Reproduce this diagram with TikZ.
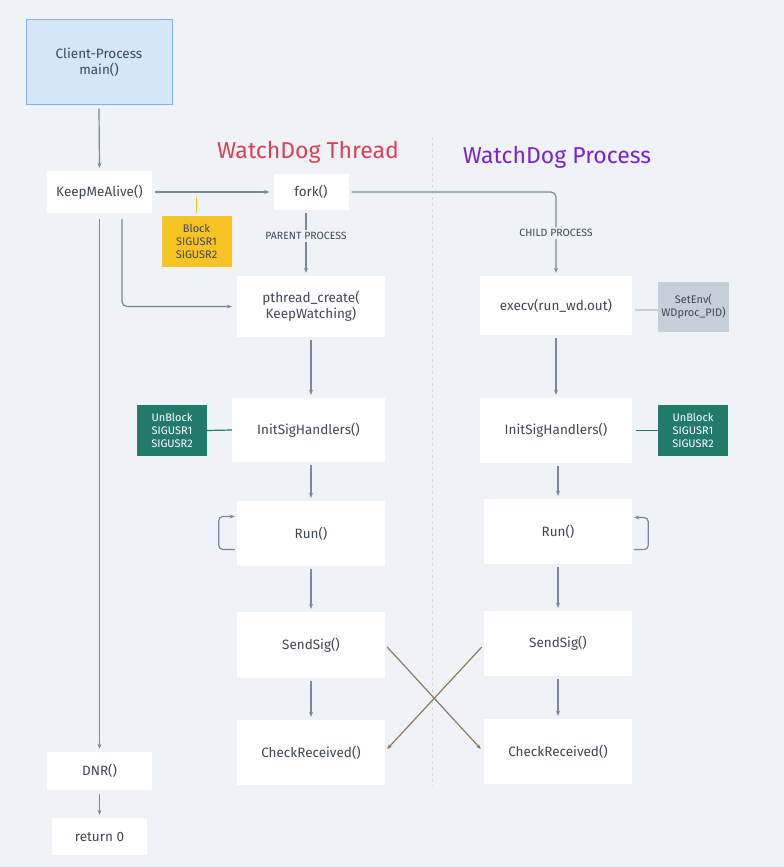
\documentclass[tikz,border=0pt]{standalone}
\usepackage{fontspec}
\setmainfont{Fira Sans}
\usetikzlibrary{arrows.meta,positioning}
\definecolor{bgc}{HTML}{EFF2F6}
\definecolor{txt}{HTML}{3D4756}
\definecolor{lnc}{HTML}{7A8899}
\definecolor{mainfill}{HTML}{D4E6F7}
\definecolor{maindraw}{HTML}{7DB3E8}
\definecolor{yel}{HTML}{F6C325}
\definecolor{grn}{HTML}{217A6A}
\definecolor{envc}{HTML}{C5D0DA}
\definecolor{crossc}{HTML}{8B7A60}
\definecolor{thr}{HTML}{D9415A}
\definecolor{prc}{HTML}{7E22CE}
\tikzset{
  fn/.style={fill=white, text=txt, minimum width=148pt, minimum height=64pt, font=\fontsize{13.5}{16}\selectfont, align=center},
  small/.style={fill=white, text=txt, minimum width=105pt, minimum height=42pt, font=\fontsize{13.5}{16}\selectfont},
  tag/.style={minimum width=70pt, minimum height=51pt, font=\fontsize{11}{13}\selectfont, align=center},
  flow/.style={draw=lnc, line width=1.2pt, -{Stealth[length=5pt,width=4pt]}},
  lbl/.style={fill=bgc, text=txt, font=\fontsize{10.5}{12}\selectfont, inner sep=2pt}
}
\begin{document}
\begin{tikzpicture}[x=1pt,y=-1pt]
\tikzstyle{every node}+=[inner sep=0pt]
\fill [bgc] (0,0) rectangle (784,867);
\useasboundingbox (0,0) rectangle (784,867);
\draw [envc!80!white, line width=1pt, dashed] (432,137) -- (432,786);
\node [text=thr, font=\fontsize{23}{26}\selectfont] (ttitle) at (308,152) {WatchDog Thread};
\node [text=prc, font=\fontsize{23}{26}\selectfont] (ptitle) at (557,157) {WatchDog Process};
\node [fill=mainfill, draw=maindraw, line width=1pt, text=txt, minimum width=146pt, minimum height=84pt, align=center, font=\fontsize{13.5}{16}\selectfont] (main) at (99,62) {Client-Process\\main()};
\node [small] (alive) at (99.5,192) {KeepMeAlive()};
\node [small, minimum width=75pt, minimum height=36pt] (fork) at (311,192) {fork()};
\node [tag, fill=yel, text=txt] (block) at (196.5,241.5) {Block\\SIGUSR1\\SIGUSR2};
\node [fn, minimum height=61pt] (pcreate) at (311,306.5) {pthread\_create(\\KeepWatching)};
\node [fn, minimum width=152pt, minimum height=59pt] (exec) at (556,305.5) {execv(run\_wd.out)};
\node [tag, fill=envc, text=txt, minimum width=71pt, minimum height=50pt] (env) at (693.5,307) {SetEnv(\\WDproc\_PID)};
\node [fn, minimum width=153pt] (tinit) at (308.5,430) {InitSigHandlers()};
\node [tag, fill=grn, text=white] (tunblock) at (172,430.5) {UnBlock\\SIGUSR1\\SIGUSR2};
\node [fn, minimum width=152pt, minimum height=65pt] (pinit) at (556,430.5) {InitSigHandlers()};
\node [tag, fill=grn, text=white] (punblock) at (693,430.5) {UnBlock\\SIGUSR1\\SIGUSR2};
\node [fn, minimum height=65pt] (trun) at (311,533.5) {Run()};
\node [fn, minimum height=65pt] (prun) at (558,531.5) {Run()};
\node [fn, minimum height=66pt] (tsend) at (311,645) {SendSig()};
\node [fn, minimum height=65pt] (psend) at (558,643.5) {SendSig()};
\node [fn, minimum height=65pt] (tcheck) at (311,752.5) {CheckReceived()};
\node [fn, minimum height=65pt] (pcheck) at (558,751.5) {CheckReceived()};
\node [small, minimum height=38pt] (dnr) at (99.5,771) {DNR()};
\node [small, minimum width=95pt, minimum height=37pt] (ret) at (99.5,836.5) {return 0};
\draw [flow] ([yshift=-4pt]main.south) -- ([yshift=3pt]alive.north);
\draw [flow] ([xshift=3pt]alive.east) -- ([xshift=-4pt]fork.west);
\draw [yel, line width=1.2pt] (196.5,197) -- ([yshift=3pt]block.north);
\draw [flow, rounded corners=5pt] ([xshift=22.5pt,yshift=-6pt]alive.south) |- ([xshift=-5pt]pcreate.west);
\draw [flow] ([yshift=-6pt]alive.south) -- ([yshift=3pt]dnr.north);
\draw [flow] ([yshift=-4pt]dnr.south) -- ([yshift=3pt]ret.north);
\draw [flow] ([xshift=-5pt,yshift=-3pt]fork.south) -- node [lbl, pos=0.38] {PARENT PROCESS} ([xshift=-5pt,yshift=3pt]pcreate.north);
\draw [flow, rounded corners=5pt] ([xshift=3pt]fork.east) -| node [lbl, pos=0.755] {CHILD PROCESS} ([yshift=3pt]exec.north);
\draw [envc, line width=1.2pt] ([xshift=3pt,yshift=-4.5pt]exec.east) -- ([yshift=-3pt]env.west);
\draw [grn, line width=1.2pt] (tunblock.east) -- (tinit.west);
\draw [grn, line width=1.2pt] ([xshift=4pt]pinit.east) -- (punblock.west);
\draw [flow] ([yshift=-3pt]pcreate.south) -- ([yshift=3pt]pcreate.south |- tinit.north);
\draw [flow] ([yshift=-3pt]pcreate.south |- tinit.south) -- ([yshift=3pt]trun.north);
\draw [flow] ([yshift=-3pt]trun.south) -- ([yshift=3pt]tsend.north);
\draw [flow] ([yshift=-3pt]tsend.south) -- ([yshift=3pt]tcheck.north);
\draw [flow] ([yshift=-3pt]exec.south) -- ([yshift=3pt]pinit.north);
\draw [flow] ([yshift=-3pt]prun.north |- pinit.south) -- ([yshift=3pt]prun.north);
\draw [flow] ([yshift=-3pt]prun.south) -- ([yshift=3pt]psend.north);
\draw [flow] ([yshift=-3pt]psend.south) -- ([yshift=3pt]pcheck.north);
\draw [flow, rounded corners=4pt] ([xshift=-2pt,yshift=-16pt]trun.west) -- ++(-16,0) -- ++(0,-33) -- ([xshift=-2pt,yshift=17pt]trun.west);
\draw [flow, rounded corners=4pt] ([xshift=2pt,yshift=-18pt]prun.east) -- ++(14,0) -- ++(0,-32) -- ([xshift=2pt,yshift=14pt]prun.east);
\draw [flow, draw=crossc] ([xshift=2pt,yshift=-2pt]tsend.east) -- ([xshift=-3pt,yshift=2.5pt]pcheck.west);
\draw [flow, draw=crossc] ([xshift=-2pt,yshift=-3.5pt]psend.west) -- ([xshift=2pt,yshift=3.5pt]tcheck.east);
\end{tikzpicture}
\end{document}
